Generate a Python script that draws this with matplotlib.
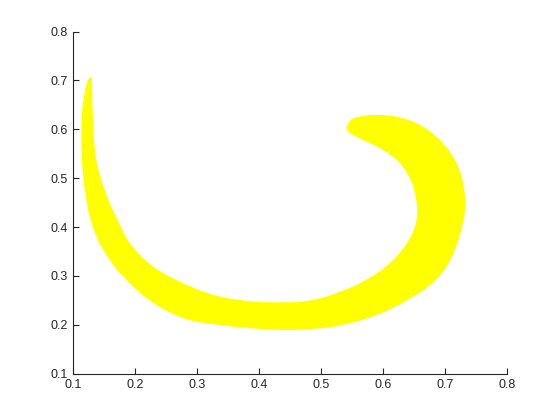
import matplotlib
matplotlib.use("Agg")
import matplotlib.pyplot as plt
from matplotlib.path import Path
from matplotlib.patches import PathPatch

# Outer boundary: from the left tip, down the left side, along the bottom, up the right side to the upper-right tip
outer_x = [0.1289, 0.1224, 0.1181, 0.1150, 0.1137, 0.1137, 0.1148, 0.1176, 0.1218, 0.1289, 0.1406, 0.1610,
           0.1805, 0.2084, 0.2460, 0.2879, 0.3374, 0.3697, 0.4127, 0.4450, 0.4773, 0.5202, 0.5632, 0.6063,
           0.6439, 0.6761, 0.7031, 0.7218, 0.7326, 0.7295, 0.7165, 0.6923, 0.6600, 0.6224, 0.5847, 0.5524,
           0.5418]
outer_y = [0.7076, 0.6941, 0.6667, 0.6350, 0.6000, 0.5781, 0.5372, 0.4963, 0.4554, 0.4145, 0.3736, 0.3300,
           0.3000, 0.2652, 0.2325, 0.2100, 0.1998, 0.1951, 0.1910, 0.1896, 0.1910, 0.1963, 0.2090, 0.2290,
           0.2540, 0.2815, 0.3200, 0.3736, 0.4350, 0.4900, 0.5372, 0.5781, 0.6088, 0.6258, 0.6292, 0.6225,
           0.6053]
# Inner boundary: from the upper-right tip back towards the left tip
inner_x = [0.5430, 0.5471, 0.5685, 0.6008, 0.6277, 0.6450, 0.6519, 0.6556, 0.6519, 0.6385, 0.6169, 0.5902,
           0.5579, 0.5310, 0.5040, 0.4665, 0.4234, 0.3966, 0.3697, 0.3427, 0.3160, 0.2944, 0.2729, 0.2515,
           0.2298, 0.2080, 0.1885, 0.1722, 0.1575, 0.1460, 0.1379, 0.1342, 0.1326, 0.1315, 0.1310]
inner_y = [0.5980, 0.5918, 0.5781, 0.5577, 0.5305, 0.4963, 0.4691, 0.4350, 0.4008, 0.3669, 0.3328, 0.3055,
           0.2820, 0.2679, 0.2560, 0.2474, 0.2462, 0.2474, 0.2509, 0.2564, 0.2658, 0.2761, 0.2883, 0.3020,
           0.3190, 0.3440, 0.3736, 0.4145, 0.4554, 0.4963, 0.5372, 0.5781, 0.6190, 0.6532, 0.6941]

xticks = [0.1, 0.2, 0.3, 0.4, 0.5, 0.6, 0.7, 0.8]
yticks = [0.1, 0.2, 0.3, 0.4, 0.5, 0.6, 0.7, 0.8]


def smooth_closed_path(xs, ys):
    """Closed outline through the given points, drawn as Catmull-Rom style cubic Bezier segments."""
    pts = list(zip(xs, ys))
    n = len(pts)
    verts = [pts[0]]
    codes = [Path.MOVETO]
    for i in range(n):
        p0 = pts[(i - 1) % n]
        p1 = pts[i]
        p2 = pts[(i + 1) % n]
        p3 = pts[(i + 2) % n]
        c1 = (p1[0] + (p2[0] - p0[0]) / 6.0, p1[1] + (p2[1] - p0[1]) / 6.0)
        c2 = (p2[0] - (p3[0] - p1[0]) / 6.0, p2[1] - (p3[1] - p1[1]) / 6.0)
        verts += [c1, c2, p2]
        codes += [Path.CURVE4, Path.CURVE4, Path.CURVE4]
    verts.append(pts[0])
    codes.append(Path.CLOSEPOLY)
    return Path(verts, codes)


plt.rcParams['font.family'] = ['Liberation Sans', 'DejaVu Sans']
fig = plt.figure(figsize=(5.6, 4.2), dpi=100)
ax = fig.add_axes([0.13, 0.11, 0.775, 0.815])
path = smooth_closed_path(outer_x + inner_x, outer_y + inner_y)
ax.add_patch(PathPatch(path, facecolor='#ffff00', edgecolor='none', linewidth=0))
ax.set_xlim(0.1, 0.8)
ax.set_ylim(0.1, 0.8)
ax.set_xticks(xticks)
ax.set_yticks(yticks)
ax.set_xticklabels([f"{t:g}" for t in xticks])
ax.set_yticklabels([f"{t:g}" for t in yticks])
for s in ['top', 'right']:
    ax.spines[s].set_visible(False)
for s in ['left', 'bottom']:
    ax.spines[s].set_color('#262626')
    ax.spines[s].set_linewidth(0.8)
ax.tick_params(direction='in', length=4, width=0.8, colors='#262626', labelsize=9)
fig.savefig('out.png', dpi=100, facecolor='white')
